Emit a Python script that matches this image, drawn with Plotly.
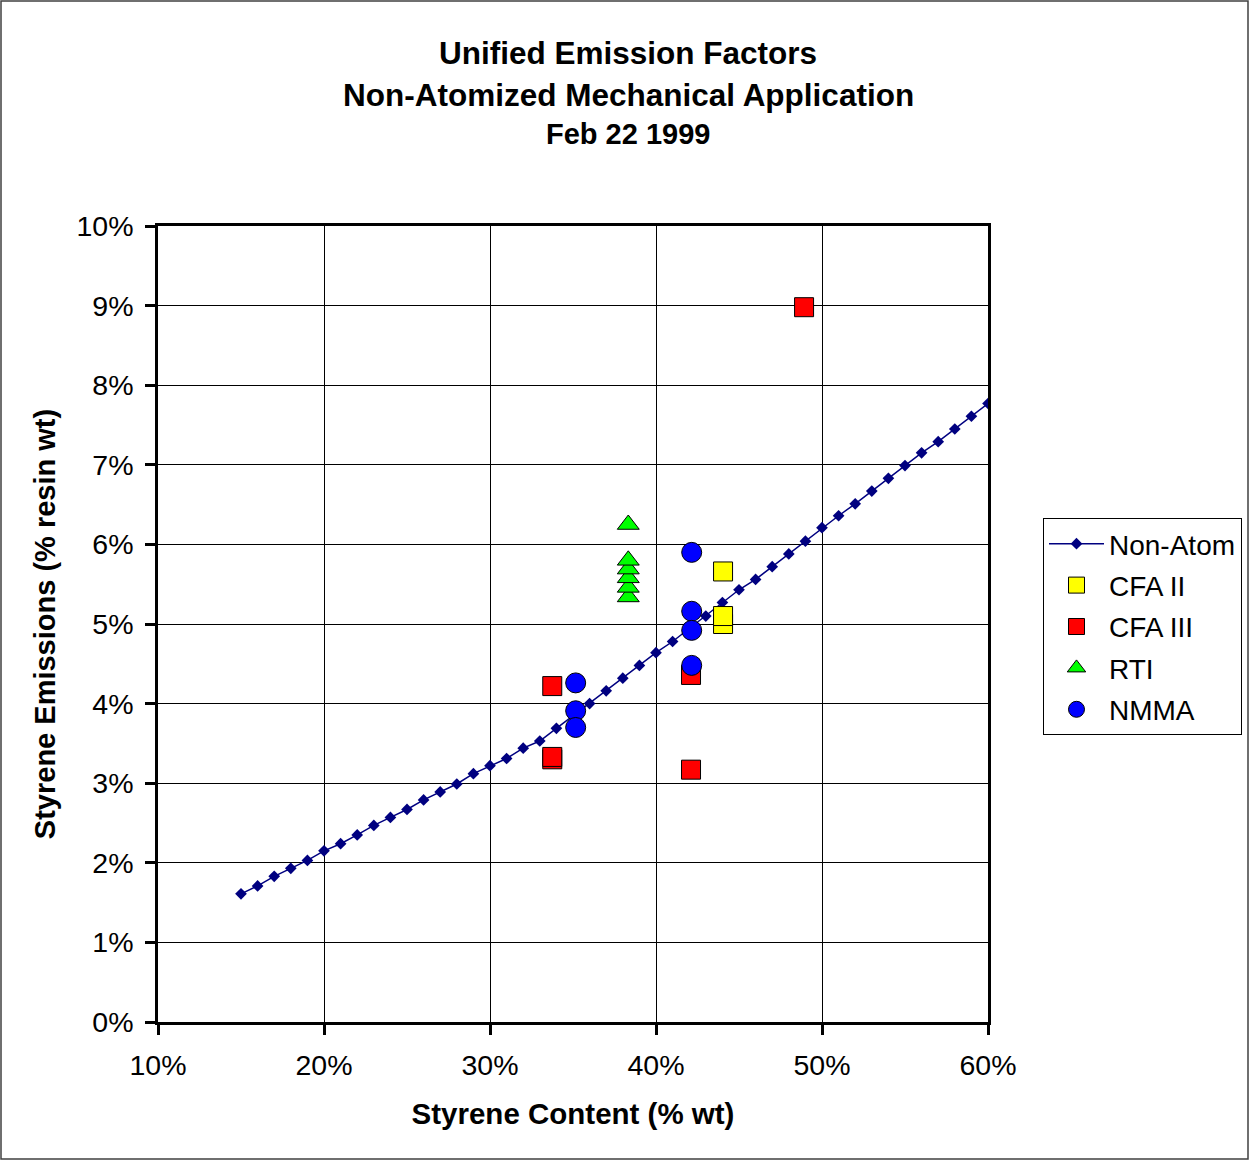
import plotly.graph_objects as go

# ---------------- data (percent values) ----------------
nonatom_x = [15, 16, 17, 18, 19, 20, 21, 22, 23, 24, 25, 26, 27, 28, 29, 30,
             31, 32, 33, 34, 35, 36, 37, 38, 39, 40, 41, 42, 43, 44, 45, 46,
             47, 48, 49, 50, 51, 52, 53, 54, 55, 56, 57, 58, 59, 60]
nonatom_y = [1.61, 1.71, 1.83, 1.93, 2.03, 2.15, 2.24, 2.35, 2.47, 2.57, 2.67,
             2.79, 2.89, 2.99, 3.12, 3.22, 3.31, 3.44, 3.53, 3.69, 3.85, 4.00,
             4.16, 4.32, 4.48, 4.64, 4.78, 4.94, 5.10, 5.27, 5.43, 5.56, 5.72,
             5.88, 6.04, 6.21, 6.36, 6.51, 6.67, 6.83, 6.99, 7.15, 7.29, 7.45,
             7.61, 7.77]

cfa2_x = [44.04, 44.04, 44.04]
cfa2_y = [5.66, 5.00, 5.10]

cfa3_x = [33.75, 33.75, 33.75, 42.11, 42.11, 48.92]
cfa3_y = [4.22, 3.30, 3.33, 4.36, 3.17, 8.98]

rti_x = [38.33, 38.33, 38.33, 38.33, 38.33, 38.33]
rti_y = [5.34, 5.46, 5.58, 5.69, 5.80, 6.25]

nmma_x = [35.16, 35.16, 35.16, 42.15, 42.15, 42.15, 42.15]
nmma_y = [4.26, 3.91, 3.70, 5.90, 5.16, 4.92, 4.48]

title_lines = ["Unified Emission Factors",
               "Non-Atomized Mechanical Application",
               "Feb 22 1999"]
x_title = "Styrene Content (% wt)"
y_title = "Styrene Emissions (% resin wt)"

# ---------------- figure ----------------
FONT = "Liberation Sans, Arial, sans-serif"
W, H = 1250, 1161
L, R, T, B = 158, 262, 226, 139
PW, PH = W - L - R, H - T - B

fig = go.Figure()

fig.add_trace(go.Scatter(
    x=nonatom_x, y=nonatom_y, name="Non-Atom", mode="lines+markers",
    legendgroup="g1",
    line=dict(color="#000080", width=1.5),
    marker=dict(symbol="diamond", size=9, color="#000080"),
))

sym_line = dict(color="black", width=1)
fig.add_trace(go.Scatter(
    x=cfa2_x, y=cfa2_y, name="CFA II", mode="markers", legendgroup="g2",
    marker=dict(symbol="square", size=19, color="#FFFF00", line=sym_line),
))
fig.add_trace(go.Scatter(
    x=cfa3_x, y=cfa3_y, name="CFA III", mode="markers", legendgroup="g3",
    marker=dict(symbol="square", size=19, color="#FF0000", line=sym_line),
))
fig.add_trace(go.Scatter(
    x=rti_x, y=rti_y, name="RTI", mode="markers", legendgroup="g4",
    marker=dict(symbol="triangle-up", size=19, color="#00FF00", line=sym_line),
))
fig.add_trace(go.Scatter(
    x=nmma_x, y=nmma_y, name="NMMA", mode="markers", legendgroup="g5",
    marker=dict(symbol="circle", size=20, color="#0000FF", line=sym_line),
))

axis_common = dict(
    showline=True, linecolor="black", linewidth=2.5, mirror=True,
    showgrid=True, gridcolor="#000000", gridwidth=1,
    ticks="outside", ticklen=10, tickwidth=2.5, tickcolor="black",
    ticksuffix="%", zeroline=False,
    tickfont=dict(family=FONT, size=28.5, color="black"),
)

fig.update_xaxes(range=[10, 60], dtick=10, tick0=10, ticklabelstandoff=6,
                 title=dict(text=x_title, standoff=24,
                            font=dict(family=FONT, size=29.5, color="black", weight="bold")),
                 **axis_common)
fig.update_yaxes(range=[0, 10], dtick=1, tick0=0, ticklabelstandoff=6,
                 title=dict(text=y_title, standoff=13,
                            font=dict(family=FONT, size=29, color="black", weight="bold")),
                 **axis_common)

# title as annotations (paper coords relative to plot area)
def py(pix):
    return (H - B - pix) / PH

def px(pix):
    return (pix - L) / PW

ann = []
for text, ypix, size in zip(title_lines, [53, 95, 134], [31.5, 31.5, 29]):
    ann.append(dict(text="<b>" + text + "</b>", x=px(628), y=py(ypix),
                    xref="paper", yref="paper", showarrow=False,
                    xanchor="center", yanchor="middle",
                    font=dict(family=FONT, size=size, color="black")))
fig.update_layout(annotations=ann)

# outer chart border
fig.add_shape(type="rect", xref="paper", yref="paper",
              x0=px(1), x1=px(1248), y0=py(1159), y1=py(1),
              line=dict(color="#404040", width=1.5), layer="below")

fig.update_layout(
    width=W, height=H,
    margin=dict(l=L, r=R, t=T, b=B, autoexpand=False),
    paper_bgcolor="white", plot_bgcolor="white",
    font=dict(family=FONT, color="black"),
    showlegend=True,
    legend=dict(x=px(1043), y=py(518), xanchor="left", yanchor="top",
                bgcolor="white", bordercolor="black", borderwidth=1,
                font=dict(family=FONT, size=28, color="black"),
                tracegroupgap=2, itemwidth=55),
)

fig.write_html("out.html")
